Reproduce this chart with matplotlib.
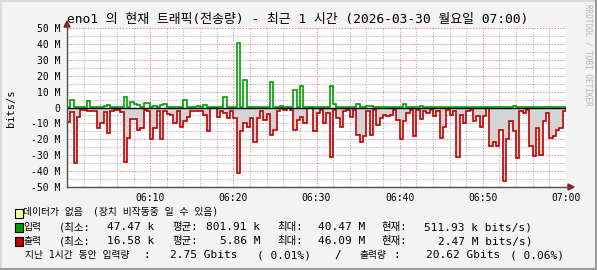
import matplotlib
matplotlib.use("Agg")
import matplotlib.pyplot as plt
import numpy as np
from matplotlib.lines import Line2D
from matplotlib.patches import Polygon, Rectangle
from matplotlib.ticker import FixedLocator, MultipleLocator

# --- data (Mbit/s, 150 steps of 24 s from 06:00 to 07:00) ---
step_minutes = 0.4
input_mbps = [
    0.4, 5.0, 0.4, 0.5, 0.4, 0.4, 4.4, 0.4, 0.5, 0.4,
    0.4, 1.0, 1.5, 0.4, 0.4, 0.5, 0.4, 6.5, 0.4, 3.5,
    2.0, 1.5, 0.4, 3.0, 3.0, 0.4, 1.2, 0.4, 1.5, 2.0,
    0.4, 0.4, 0.5, 0.4, 0.4, 4.6, 0.4, 0.4, 0.4, 1.0,
    0.4, 1.5, 0.4, 0.4, 0.5, 0.4, 0.4, 6.7, 0.4, 0.4,
    0.4, 40.5, 0.4, 17.0, 0.4, 0.4, 0.5, 0.4, 0.4, 0.4,
    0.4, 16.0, 0.4, 0.4, 1.0, 0.4, 0.4, 0.4, 10.7, 0.4,
    13.4, 0.4, 0.4, 0.5, 0.4, 0.4, 0.4, 0.4, 0.4, 13.4,
    2.0, 0.4, 0.4, 0.5, 0.4, 0.4, 0.4, 2.0, 0.4, 0.4,
    1.2, 1.0, 0.4, 0.4, 0.4, 0.5, 0.4, 0.4, 0.4, 0.4,
    0.4, 2.5, 0.4, 0.4, 0.4, 0.4, 1.2, 0.4, 0.5, 0.4,
    0.4, 0.4, 0.4, 0.4, 0.4, 0.5, 0.4, 0.4, 0.4, 0.4,
    0.4, 0.4, 0.4, 0.5, 0.4, 0.4, 0.4, 0.4, 0.4, 0.4,
    0.4, 0.4, 0.4, 0.4, 1.2, 0.4, 0.4, 0.5, 0.4, 0.4,
    0.4, 0.4, 0.4, 0.4, 0.5, 0.4, 0.4, 0.4, 0.4, 0.5,
]
output_mbps = [
    -9.0, -3.0, -35.0, -6.0, -1.5, -1.5, -2.3, -2.0, -2.0, -13.0,
    -10.0, -2.7, -16.0, -2.0, -1.3, -1.3, -3.0, -34.0, -19.0, -7.0,
    -7.0, -14.0, -13.0, -1.3, -2.0, -20.0, -13.0, -2.0, -20.0, -2.3,
    -4.0, -5.0, -10.0, -2.0, -12.0, -8.5, -6.0, -2.0, -2.0, -2.3,
    -2.3, -5.0, -15.0, -0.6, -0.6, -6.0, -2.3, -3.3, -6.5, -2.0,
    -6.5, -41.0, -15.0, -10.0, -12.0, -6.5, -21.5, -6.5, -2.0, -8.0,
    -4.0, -17.0, -14.0, -2.3, -0.6, -1.3, -0.6, -1.3, -14.0, -8.0,
    -6.0, -10.0, -0.6, -0.6, -15.0, -3.3, -1.5, -10.0, -3.3, -31.0,
    -1.5, -6.5, -12.0, -2.0, -1.3, -6.0, -1.3, -17.0, -21.5, -18.0,
    -2.0, -17.0, -1.3, -10.7, -6.5, -5.0, -5.5, -4.5, -1.3, -8.0,
    -20.0, -8.5, -3.3, -1.3, -18.0, -1.3, -7.5, -2.0, -3.3, -1.3,
    -5.5, -2.3, -19.0, -12.0, -1.3, -4.5, -2.3, -31.0, -4.5, -10.0,
    -2.0, -1.3, -8.5, -5.5, -12.0, -5.5, -0.6, -24.0, -22.0, -24.0,
    -14.0, -46.1, -20.0, -8.5, -15.0, -31.6, -2.3, -3.3, -1.3, -24.0,
    -30.6, -13.0, -30.0, -8.5, -3.3, -19.0, -18.0, -14.0, -13.0, -2.5,
]

y_ticks = [-50, -40, -30, -20, -10, 0, 10, 20, 30, 40, 50]
y_tick_labels = ["-50 M", "-40 M", "-30 M", "-20 M", "-10 M", "0",
                 "10 M", "20 M", "30 M", "40 M", "50 M"]
x_ticks = [10, 20, 30, 40, 50, 60]
x_tick_labels = ["06:10", "06:20", "06:30", "06:40", "06:50", "07:00"]

title = "eno1 의 현재 트래픽(전송량) - 최근 1 시간 (2026-03-30 월요일 07:00)"
in_stats = ["47.47 k", "801.91 k", "40.47 M", "511.93 k bits/s)"]
out_stats = ["16.58 k", "5.86 M", "46.09 M", "2.47 M bits/s)"]
in_total = "2.75 Gbits"
in_pct = "( 0.01%)"
out_total = "20.62 Gbits"
out_pct = "( 0.06%)"

W, H = 597, 270
MONO = ["DejaVu Sans Mono", "Noto Sans CJK KR"]
BG = "#F3F3F3"
GREEN = "#00A000"
RED = "#C00000"


def px(x, y):
    """Pixel position (from top-left) to figure fraction."""
    return x / W, 1 - y / H


fig = plt.figure(figsize=(W / 100, H / 100), dpi=100, facecolor=BG)
left, top = px(67, 28)
right, bottom = px(566, 187)
ax = fig.add_axes([left, bottom, right - left, top - bottom])
ax.set_facecolor("white")

edges = np.arange(len(output_mbps) + 1) * step_minutes
ax.stairs(output_mbps, edges, baseline=0, fill=True, color="#D4D4D4", zorder=2)
ax.stairs(output_mbps, edges, baseline=0, color=RED, linewidth=1.2, zorder=3)
ax.stairs(input_mbps, edges, baseline=None, color=GREEN, linewidth=1.2, zorder=3)
ax.axhline(0, color="black", linewidth=1.0, zorder=4)

ax.set_xlim(0, 60)
ax.set_ylim(-50, 50)
ax.yaxis.set_major_locator(FixedLocator(y_ticks))
ax.set_yticklabels(y_tick_labels)
ax.yaxis.set_minor_locator(MultipleLocator(5))
ax.xaxis.set_major_locator(FixedLocator(x_ticks))
ax.set_xticklabels(x_tick_labels)
ax.xaxis.set_minor_locator(MultipleLocator(2))

dots = (0, (1.4, 1.4))
ax.grid(which="major", color="#F09090", linestyle=dots, linewidth=0.75, zorder=1)
ax.grid(which="minor", color="#BDBDBD", linestyle=dots, linewidth=0.75, zorder=1)
ax.set_axisbelow(True)
ax.tick_params(which="both", length=0)
ax.tick_params(axis="y", pad=5, labelsize=7)
ax.tick_params(axis="x", pad=4, labelsize=7)
for lab in ax.get_xticklabels() + ax.get_yticklabels():
    lab.set_family(MONO)
for s in ax.spines.values():
    s.set_visible(False)

# axis lines with arrow heads
axis_col = "#505050"
arrow_col = "#8B1A1A"
fig.add_artist(Line2D(*zip(px(67, 187), px(67, 24)), color=axis_col, lw=1.0))
fig.add_artist(Line2D(*zip(px(67, 187), px(570, 187)), color=axis_col, lw=1.0))
fig.add_artist(Polygon([px(64, 27), px(70, 27), px(67, 21)], closed=True,
                       transform=fig.transFigure, color=arrow_col))
fig.add_artist(Polygon([px(568, 184), px(568, 190), px(574, 187)], closed=True,
                       transform=fig.transFigure, color=arrow_col))

# titles and side text
fig.text(*px(298, 19), title, ha="center", va="center", fontsize=9.3, family=MONO)
fig.text(*px(11, 108), "bits/s", ha="center", va="center", rotation=90,
         fontsize=7.5, family=MONO)
fig.text(*px(588, 4), "RRDTOOL / TOBI OETIKER", ha="center", va="top",
         rotation=270, fontsize=5.5, family=MONO, color="#B4B4B4")

# legend
for y, col in [(213, "#FFFFA0"), (227, GREEN), (241, RED)]:
    x0, y0 = px(15, y + 4.5)
    fig.add_artist(Rectangle((x0, y0), 8 / W, 9 / H, transform=fig.transFigure,
                             facecolor=col, edgecolor="black", lw=0.8))


def put(x, y, s, ha="left", size=8):
    fig.text(*px(x, y), s, ha=ha, va="center", fontsize=size, family=MONO)


put(23, 212, "데이터가 없음", size=7)
put(93, 212, "(장치 비작동중 일 수 있음)", size=7)
for y, name, stats in [(227, "입력", in_stats), (241, "출력", out_stats)]:
    put(23, y, name, size=7)
    put(59, y, "(최소:", size=7.5)
    put(154, y, stats[0], ha="right")
    put(172, y, "평균:", size=7.5)
    put(260, y, stats[1], ha="right")
    put(277, y, "최대:", size=7.5)
    put(365, y, stats[2], ha="right")
    put(382, y, "현재:", size=7.5)
    put(532, y, stats[3], ha="right")

put(25, 255, "지난 1시간 동안 입력량", size=7)
put(143, 255, ":")
put(238, 255, in_total, ha="right")
put(257, 255, in_pct)
put(334, 255, "/")
put(360, 255, "출력량", size=7)
put(393, 255, ":")
put(500, 255, out_total, ha="right")
put(510, 255, out_pct)

# 3D border
fig.add_artist(Line2D([0, 1], [1 - 1 / H] * 2, color="#DADADA", lw=1.5))
fig.add_artist(Line2D([1 / W] * 2, [0, 1], color="#DADADA", lw=1.5))
fig.add_artist(Line2D([0, 1], [1 / H] * 2, color="#9A9A9A", lw=1.5))
fig.add_artist(Line2D([1 - 1 / W] * 2, [0, 1], color="#9A9A9A", lw=1.5))

fig.savefig("out.png", dpi=100, facecolor=BG)
